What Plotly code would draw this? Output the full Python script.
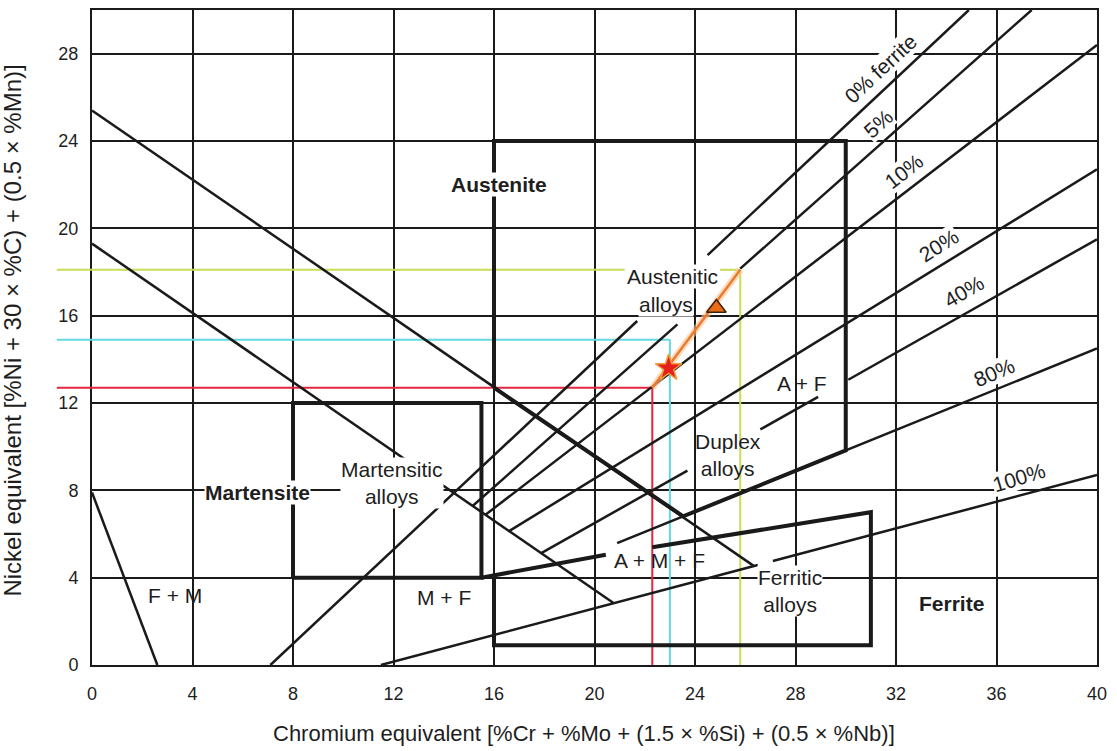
import plotly.graph_objects as go

# ---- axis ticks -------------------------------------------------------------
x_ticks = [0, 4, 8, 12, 16, 20, 24, 28, 32, 36, 40]
y_ticks = [0, 4, 8, 12, 16, 20, 24, 28]

# ---- iso-ferrite lines (start / end on the Cr_eq, Ni_eq plane) --------------
ferrite_names = ["0%", "5%", "10%", "20%", "40%", "80%", "100%"]
ferrite_x0 = [7.1, 15.15, 15.66, 16.6, 17.88, 20.9, 11.5]
ferrite_y0 = [0.0, 7.28, 6.88, 6.13, 5.12, 5.58, 0.0]
ferrite_x1 = [34.9, 37.4, 40.0, 40.0, 40.0, 40.0, 40.0]
ferrite_y1 = [30.0, 30.0, 28.4, 22.7, 19.5, 14.5, 8.7]
# x-intervals where a line is interrupted by a label
ferrite_gaps = [[(21.7, 24.5)], [(23.3, 25.8)], [], [],
                [(23.7, 26.6), (28.9, 30.1)], [], [(26.5, 27.1)]]

# ---- martensite boundary lines ---------------------------------------------
upper_diag_x = [0.0, 26.35]
upper_diag_y = [25.4, 4.53]
lower_diag_x = [0.0, 20.77]
lower_diag_y = [19.3, 2.83]
fm_line_x = [0.0, 2.6]
fm_line_y = [7.9, 0.0]

# ---- alloy regions (heavy outlines) ----------------------------------------
martensitic_box_x = [8, 15.5, 15.5, 8, 8]
martensitic_box_y = [4, 4, 12, 12, 4]
austenitic_box_x = [16, 16, 30, 30, 23.53, 16]
austenitic_box_y = [12.7, 24, 24, 9.83, 6.81, 12.7]
ferritic_top_x = [15.5, 20.45]
ferritic_top_y = [4.0, 5.05]
ferritic_box_x = [22.3, 31, 31, 16, 16]
ferritic_box_y = [5.39, 7.0, 0.9, 0.9, 4.1]

# ---- composition read-off lines --------------------------------------------
ref_colors = ["#e3263f", "#63d8df", "#c9dc55"]
ref_cr = [22.3, 23.0, 25.8]
ref_ni = [12.7, 14.9, 18.1]
# part of a horizontal read-off line hidden behind a label (Cr range)
ref_gaps = [None, None, (21.2, 25.0)]

tie_x = [22.3, 25.8]
tie_y = [12.7, 18.1]
star_x, star_y = [22.95], [13.6]
tri_x, tri_y = [24.85], [16.35]

INK = "#1a1a1a"
TXT = "#1e1e1e"
FONT = "Liberation Sans, Arial, Helvetica, sans-serif"

fig = go.Figure()


def add_line(xs, ys, width=2.5, color=INK):
    fig.add_trace(go.Scatter(x=xs, y=ys, mode="lines",
                             line=dict(color=color, width=width),
                             hoverinfo="skip", showlegend=False))


def split_segments(x0, y0, x1, y1, gaps):
    slope = (y1 - y0) / (x1 - x0)
    pts = [x0]
    for a, b in gaps:
        pts += [a, b]
    pts.append(x1)
    segs = []
    for i in range(0, len(pts), 2):
        xa, xb = pts[i], pts[i + 1]
        segs.append(([xa, xb], [y0 + slope * (xa - x0), y0 + slope * (xb - x0)]))
    return segs


# coloured read-off lines (drawn first, under the diagram)
for c, xr, yr, gap in zip(ref_colors, ref_cr, ref_ni, ref_gaps):
    if gap is None:
        add_line([0, xr], [yr, yr], width=2, color=c)
    else:
        add_line([0, gap[0]], [yr, yr], width=2, color=c)
        add_line([gap[1], xr], [yr, yr], width=2, color=c)
    add_line([xr, xr], [0, yr], width=2, color=c)
    fig.add_shape(type="line", xref="paper", yref="y", x0=-0.035, x1=0,
                  y0=yr, y1=yr, line=dict(color=c, width=2))

# boundary lines
add_line(upper_diag_x, upper_diag_y)
add_line(lower_diag_x, lower_diag_y)
add_line(fm_line_x, fm_line_y)

for x0, y0, x1, y1, gaps in zip(ferrite_x0, ferrite_y0, ferrite_x1,
                                ferrite_y1, ferrite_gaps):
    for xs, ys in split_segments(x0, y0, x1, y1, gaps):
        add_line(xs, ys)

# heavy region outlines
add_line(martensitic_box_x, martensitic_box_y, width=4)
add_line(austenitic_box_x, austenitic_box_y, width=4)
add_line(ferritic_top_x, ferritic_top_y, width=4)
add_line(ferritic_box_x, ferritic_box_y, width=4)

# tie line between the two compositions
add_line(tie_x, tie_y, width=7, color="rgba(248,196,150,0.6)")
add_line(tie_x, tie_y, width=2.5, color="#ec7a2c")

fig.add_trace(go.Scatter(x=star_x, y=star_y, mode="markers",
                         marker=dict(symbol="star", size=20, color="#e5201c",
                                     line=dict(color="#f29a3a", width=1.5)),
                         hoverinfo="skip", showlegend=False))
fig.add_trace(go.Scatter(x=tri_x, y=tri_y, mode="markers",
                         marker=dict(symbol="triangle-up", size=17, color="#ea6c14",
                                     line=dict(color="#3a2010", width=1.5)),
                         hoverinfo="skip", showlegend=False))

# ---- region labels ----------------------------------------------------------
labels = [
    # text, x, y, bold, white background
    ("Austenite", 16.2, 22.0, True, True),
    ("Martensite", 6.6, 7.9, True, True),
    ("Ferrite", 34.2, 2.8, True, False),
    ("Martensitic<br>alloys", 11.95, 8.35, False, True),
    ("Austenitic", 23.1, 17.8, False, True),
    ("alloys", 22.85, 16.5, False, True),
    ("Duplex<br>alloys", 25.3, 9.6, False, False),
    ("Ferritic<br>alloys", 27.8, 3.4, False, True),
    ("F + M", 3.3, 3.2, False, False),
    ("M + F", 14.0, 3.1, False, False),
    ("A + M + F", 22.6, 4.8, False, False),
    ("A + F", 28.25, 12.9, False, False),
]
for text, x, y, bold, bg in labels:
    fig.add_annotation(x=x, y=y, text=f"<b>{text}</b>" if bold else text,
                       showarrow=False, align="center",
                       font=dict(family=FONT, size=21, color=TXT),
                       bgcolor="white" if bg else None, borderpad=0)

# iso-ferrite labels along the lines
pct_text = ["0% ferrite", "5%", "10%", "20%", "40%", "80%", "100%"]
pct_x = [31.4, 31.3, 32.3, 33.7, 34.7, 35.9, 36.9]
pct_y = [27.3, 24.8, 22.6, 19.2, 17.1, 13.4, 8.6]
pct_angle = [-43, -42, -38, -32, -30, -23, -17]
for t, x, y, a in zip(pct_text, pct_x, pct_y, pct_angle):
    fig.add_annotation(x=x, y=y, text=t, showarrow=False, textangle=a,
                       font=dict(family=FONT, size=21, color=TXT),
                       bgcolor="white", borderpad=0)

# axis titles
fig.add_annotation(xref="paper", yref="paper", x=0.49, y=-0.104,
                   text="Chromium equivalent [%Cr + %Mo + (1.5 × %Si) + (0.5 × %Nb)]",
                   showarrow=False, yanchor="middle",
                   font=dict(family=FONT, size=22, color=TXT))
fig.add_annotation(xref="paper", yref="paper", x=-0.079, y=0.51,
                   text="Nickel equivalent [%Ni + 30 × %C) + (0.5 × %Mn)]",
                   showarrow=False, textangle=-90, xanchor="center",
                   font=dict(family=FONT, size=24, color=TXT))

axis_common = dict(showgrid=True, gridcolor=INK, gridwidth=2, zeroline=False,
                   showline=True, linecolor=INK, linewidth=2, mirror=True,
                   ticks="", tickfont=dict(family=FONT, size=18, color=TXT))
fig.update_xaxes(range=[0, 40], tickvals=x_ticks, ticklabelstandoff=11,
                 **axis_common)
fig.update_yaxes(range=[0, 30], tickvals=y_ticks, ticklabelstandoff=8,
                 **axis_common)

fig.update_layout(width=1117, height=751, plot_bgcolor="white",
                  paper_bgcolor="white",
                  margin=dict(l=92, r=20, t=8, b=86))

fig.write_html("out.html")
